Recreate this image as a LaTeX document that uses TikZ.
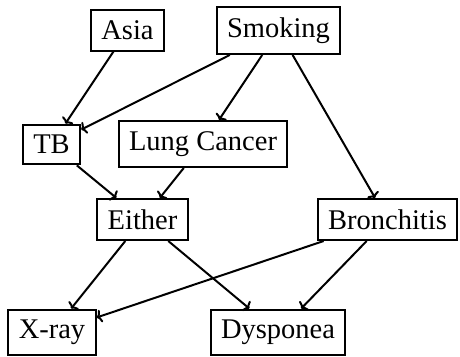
\documentclass[tikz,border=0pt]{standalone}
\usepackage{fontspec}
\setmainfont{Liberation Serif}
\usepackage{tikz}
\usetikzlibrary{arrows.meta}
\tikzset{
BOX/.style = {draw,
        line width=2pt,
        inner sep=10.5pt,
        font=\fontsize{28.5}{34}\selectfont
            },
% other common sty definitions like
ARR/.style = {line width=2pt,
        -{To[length=5pt,width=13pt]}
            }
        }

\begin{document}
\begin{tikzpicture}[x=1pt,y=1pt]

%%% Defining nodes:

\useasboundingbox (0,0) rectangle (460,356);

\node[BOX] (Asia) at (127.5,325.5) {Asia};
\node[BOX] (Smoking) at (278.5,325.5) {Smoking};
\node[BOX] (TB) at (51.5,211.5) {TB};
\node[BOX] (Lung) at (203,212) {Lung Cancer};
\node[BOX] (Either) at (142.5,136.5) {Either};
\node[BOX] (Bronchitis) at (387.5,136.5) {Bronchitis};
\node[BOX] (Xray) at (52,23.5) {X-ray};
\node[BOX] (Dysponea) at (278,23.5) {Dysponea};

%%% Edges:

\draw[ARR] (Asia) -- (TB);
\draw[ARR] (Smoking) -- (TB);
\draw[ARR] (Smoking) -- (Lung);
\draw[ARR] (Smoking) -- (Bronchitis);
\draw[ARR] (TB) -- (Either);
\draw[ARR] (Lung) -- (Either);
\draw[ARR] (Either) -- (Xray);
\draw[ARR] (Either) -- (Dysponea);
\draw[ARR] (Bronchitis) -- (Xray);
\draw[ARR] (Bronchitis) -- (Dysponea);

\end{tikzpicture}
\end{document}
